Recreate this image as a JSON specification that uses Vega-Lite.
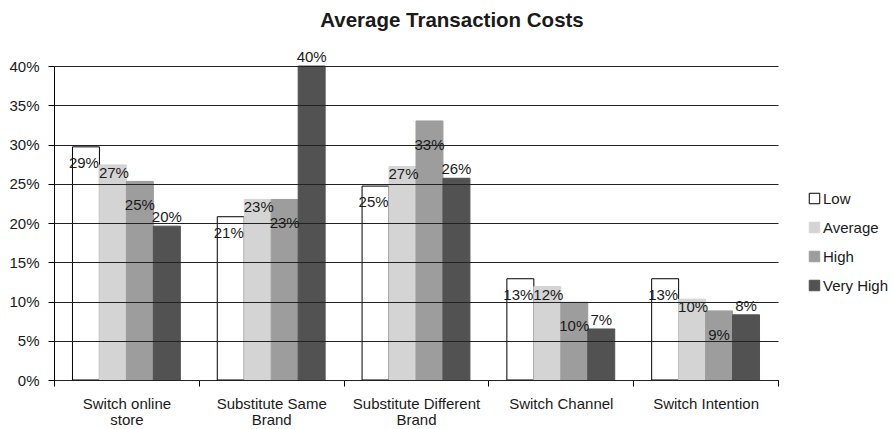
{
  "$schema": "https://vega.github.io/schema/vega-lite/v6.json",
  "width": 724,
  "height": 314,
  "autosize": "none",
  "padding": {"left": 54, "top": 66, "right": 115, "bottom": 49},
  "background": "white",
  "config": {"view": {"stroke": null}, "font": "Liberation Sans"},
  "title": {"text": "Average Transaction Costs", "fontSize": 20.5, "fontWeight": "bold", "font": "Liberation Sans", "color": "#1a1a1a", "anchor": "middle", "dx": 36, "offset": 19},
  "data": {"values": [
    {"category": "Switch online store", "level": "Low", "value": 0.297, "label": "29%"},
    {"category": "Switch online store", "level": "Average", "value": 0.274, "label": "27%"},
    {"category": "Switch online store", "level": "High", "value": 0.253, "label": "25%"},
    {"category": "Switch online store", "level": "Very High", "value": 0.196, "label": "20%"},
    {"category": "Substitute Same Brand", "level": "Low", "value": 0.208, "label": "21%"},
    {"category": "Substitute Same Brand", "level": "Average", "value": 0.230, "label": "23%"},
    {"category": "Substitute Same Brand", "level": "High", "value": 0.230, "label": "23%"},
    {"category": "Substitute Same Brand", "level": "Very High", "value": 0.400, "label": "40%"},
    {"category": "Substitute Different Brand", "level": "Low", "value": 0.247, "label": "25%"},
    {"category": "Substitute Different Brand", "level": "Average", "value": 0.272, "label": "27%"},
    {"category": "Substitute Different Brand", "level": "High", "value": 0.330, "label": "33%"},
    {"category": "Substitute Different Brand", "level": "Very High", "value": 0.257, "label": "26%"},
    {"category": "Switch Channel", "level": "Low", "value": 0.129, "label": "13%"},
    {"category": "Switch Channel", "level": "Average", "value": 0.119, "label": "12%"},
    {"category": "Switch Channel", "level": "High", "value": 0.099, "label": "10%"},
    {"category": "Switch Channel", "level": "Very High", "value": 0.065, "label": "7%"},
    {"category": "Switch Intention", "level": "Low", "value": 0.129, "label": "13%"},
    {"category": "Switch Intention", "level": "Average", "value": 0.103, "label": "10%"},
    {"category": "Switch Intention", "level": "High", "value": 0.088, "label": "9%"},
    {"category": "Switch Intention", "level": "Very High", "value": 0.083, "label": "8%"}
  ]},
  "encoding": {
    "x": {
      "field": "category", "type": "nominal",
      "sort": ["Switch online store", "Substitute Same Brand", "Substitute Different Brand", "Switch Channel", "Switch Intention"],
      "scale": {"paddingInner": 0, "paddingOuter": 0},
      "axis": {
        "title": null, "labelAngle": 0, "domainColor": "#000000", "tickColor": "#000000",
        "tickSize": 6, "tickBand": "extent", "labelFontSize": 15, "labelColor": "#1a1a1a",
        "labelPadding": 10, "labelLineHeight": 16, "labelBaseline": "top",
        "labelExpr": "datum.value == 'Switch online store' ? ['Switch online', 'store'] : datum.value == 'Substitute Same Brand' ? ['Substitute Same', 'Brand'] : datum.value == 'Substitute Different Brand' ? ['Substitute Different', 'Brand'] : datum.value"
      }
    },
    "xOffset": {
      "field": "level", "type": "nominal",
      "sort": ["Low", "Average", "High", "Very High"],
      "scale": {"paddingInner": 0, "paddingOuter": 0.685}
    },
    "y": {
      "field": "value", "type": "quantitative",
      "scale": {"domain": [0, 0.4], "nice": false},
      "axis": {
        "title": null, "format": ".0%", "values": [0, 0.05, 0.1, 0.15, 0.2, 0.25, 0.3, 0.35, 0.4],
        "grid": true, "gridColor": "#222222", "gridOpacity": 1, "gridWidth": 1,
        "domainColor": "#000000", "tickColor": "#000000", "tickSize": 6,
        "labelFontSize": 15, "labelColor": "#1a1a1a", "labelPadding": 9, "zindex": 1
      }
    }
  },
  "layer": [
    {
      "mark": {"type": "bar", "strokeWidth": 1},
      "encoding": {
        "fill": {
          "field": "level", "type": "nominal",
          "sort": ["Low", "Average", "High", "Very High"],
          "scale": {"domain": ["Low", "Average", "High", "Very High"], "range": ["#ffffff", "#d4d4d4", "#9d9d9d", "#525252"]},
          "legend": {
            "title": null, "orient": "none", "legendX": 753, "legendY": 125,
            "symbolType": "square", "symbolSize": 110, "symbolStrokeWidth": 1,
            "labelFontSize": 15, "labelColor": "#1a1a1a", "rowPadding": 13, "labelOffset": 1
          }
        },
        "stroke": {
          "field": "level", "type": "nominal",
          "sort": ["Low", "Average", "High", "Very High"],
          "scale": {"domain": ["Low", "Average", "High", "Very High"], "range": ["#000000", "#d4d4d4", "#9d9d9d", "#525252"]},
          "legend": {
            "title": null, "orient": "none", "legendX": 753, "legendY": 125,
            "symbolType": "square", "symbolSize": 110, "symbolStrokeWidth": 1,
            "labelFontSize": 15, "labelColor": "#1a1a1a", "rowPadding": 13, "labelOffset": 1
          }
        }
      }
    },
    {
      "transform": [{"filter": "datum.level == 'Low'"}],
      "mark": {"type": "text", "fontSize": 15, "color": "#1a1a1a", "baseline": "middle", "dy": 16, "dx": -2},
      "encoding": {"text": {"field": "label"}}
    },
    {
      "transform": [{"filter": "datum.level == 'Average'"}],
      "mark": {"type": "text", "fontSize": 15, "color": "#1a1a1a", "baseline": "middle", "dy": 8, "dx": 1},
      "encoding": {"text": {"field": "label"}}
    },
    {
      "transform": [{"filter": "datum.level == 'High'"}],
      "mark": {"type": "text", "fontSize": 15, "color": "#1a1a1a", "baseline": "middle", "dy": 24},
      "encoding": {"text": {"field": "label"}}
    },
    {
      "transform": [{"filter": "datum.level == 'Very High'"}],
      "mark": {"type": "text", "fontSize": 15, "color": "#1a1a1a", "baseline": "middle", "dy": -9},
      "encoding": {"text": {"field": "label"}}
    }
  ]
}
